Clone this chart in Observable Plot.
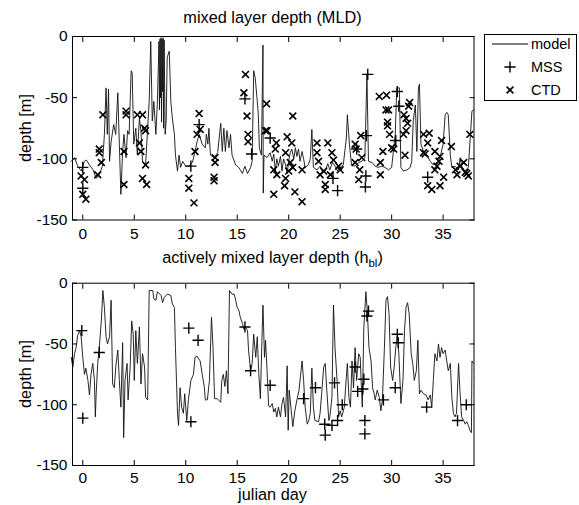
<!DOCTYPE html>
<html><head><meta charset="utf-8">
<script src="https://cdn.jsdelivr.net/npm/d3@7"></script>
<script src="https://cdn.jsdelivr.net/npm/@observablehq/plot@0.6"></script>
<style>
body{margin:0;background:#fff;}
#wrap{position:relative;width:579px;height:505px;font-family:"Liberation Sans",Arial,Helvetica,sans-serif;color:#000;overflow:hidden;}
.t{position:absolute;font-size:16.3px;white-space:nowrap;transform:translateX(-50%);}
.p{position:absolute;left:0;}
sub{font-size:11.5px;vertical-align:-4px;line-height:0;color:#000;}
</style></head><body><div id="wrap"></div>
<script>
// x axis ticks (julian day) and y ticks (depth)
const xTicks = [0,5,10,15,20,25,30,35];
const yTicks = [0,-50,-100,-150];
const xDomain = [-1,38];
const yDomain = [-150,0];

// top panel: mixed layer depth (MLD), model [day, depth]
const mldModel = [[-1.13,-102],[-0.8,-99],[-0.5,-106],[-0.15,-110],[0.15,-102],[0.35,-101],[0.65,-105],[1.0,-109],[1.3,-116],[1.6,-113],[1.9,-106],[2.1,-80],[2.26,-42],[2.38,-80],[2.5,-43],[2.6,-102],[2.75,-86],[3.0,-72],[3.2,-80],[3.4,-46],[3.55,-88],[3.7,-129],[3.87,-94],[4.0,-80],[4.2,-99],[4.35,-77],[4.5,-80],[4.7,-28],[4.8,-30],[4.95,-88],[5.15,-75],[5.3,-97],[5.5,-67],[5.65,-77],[5.8,-102],[6.1,-105],[6.3,-75],[6.45,-53],[6.6,-4],[6.75,-69],[6.9,-53],[7.1,-80],[7.25,-53],[7.4,-4],[7.45,-60],[7.5,-2],[7.55,-50],[7.6,-1],[7.65,-70],[7.7,-2],[7.75,-45],[7.8,-1],[7.85,-75],[7.9,-3],[8.0,-80],[8.1,-69],[8.2,-17],[8.4,-12],[8.55,-53],[8.7,-67],[8.9,-80],[9.0,-97],[9.2,-110],[9.35,-97],[9.5,-107],[9.7,-102],[10.0,-106],[10.3,-106],[10.65,-103],[10.9,-94],[11.1,-86],[11.3,-80],[11.6,-88],[11.9,-91],[12.0,-80],[12.15,-88],[12.25,-75],[12.4,-97],[12.75,-99],[13.1,-95],[13.4,-71],[13.55,-94],[13.7,-75],[13.85,-94],[14.0,-77],[14.2,-91],[14.35,-80],[14.5,-97],[14.85,-105],[15.15,-107],[15.5,-112],[15.75,-106],[16.0,-112],[16.3,-107],[16.45,-102],[16.6,-28],[16.75,-34],[16.95,-53],[17.05,-64],[17.15,-91],[17.35,-97],[17.5,-7],[17.53,-128],[17.6,-97],[17.9,-99],[18.2,-95],[18.4,-102],[18.55,-96],[18.7,-110],[18.85,-100],[19.0,-106],[19.2,-98],[19.35,-110],[19.5,-100],[19.7,-105],[19.85,-112],[20.0,-102],[20.15,-95],[20.3,-92],[20.5,-100],[20.65,-91],[20.8,-98],[20.95,-92],[21.1,-102],[21.3,-94],[21.45,-100],[21.6,-107],[21.9,-105],[22.1,-100],[22.25,-76],[22.4,-107],[22.75,-109],[23.05,-106],[23.3,-111],[23.55,-110],[23.8,-104],[24.0,-109],[24.25,-103],[24.5,-106],[24.75,-110],[25.0,-107],[25.3,-105],[25.6,-83],[25.7,-64],[25.9,-88],[26.1,-105],[26.45,-106],[26.8,-103],[27.1,-102],[27.4,-99],[27.6,-31],[27.75,-102],[28.1,-103],[28.4,-106],[28.7,-107],[29.05,-106],[29.35,-107],[29.7,-109],[30.0,-107],[30.35,-80],[30.5,-42],[30.75,-42],[30.9,-107],[31.15,-110],[31.5,-109],[31.8,-107],[31.95,-102],[32.1,-69],[32.3,-56],[32.45,-94],[32.6,-42],[32.7,-39],[32.85,-88],[33.1,-94],[33.4,-97],[33.75,-102],[34.05,-105],[34.4,-103],[34.7,-99],[35.0,-88],[35.2,-64],[35.35,-62],[35.5,-64],[35.7,-97],[35.85,-107],[36.15,-106],[36.5,-109],[36.65,-99],[36.8,-106],[37.1,-110],[37.45,-107],[37.8,-61],[37.95,-60]];

// top panel MSS observations
const mldMSS = [[0,-107],[0,-124],[10.5,-106],[11.3,-72],[15.75,-51],[16.4,-96],[18.2,-83],[24.3,-116],[24.75,-126],[26.6,-92],[27.55,-81],[27.68,-31],[27.5,-114],[27.45,-123],[30.55,-45],[30.7,-57],[30.4,-85],[33.5,-115]];

// top panel CTD observations
const mldCTD = [[-0.16,-114],[0.16,-117],[0,-129],[0.3,-133],[1.6,-92],[1.6,-95],[1.8,-103],[1.45,-113],[1.95,-64],[4.2,-64],[4.2,-61],[4.0,-94],[4.0,-121],[5.3,-64],[5.8,-64],[5.5,-87],[5.65,-94],[6.0,-75],[6.1,-77],[6.1,-105],[5.8,-116],[6.2,-121],[10.3,-116],[10.3,-124],[10.8,-136],[10.9,-94],[11.3,-63],[11.1,-80],[11.4,-76],[12.75,-115],[12.75,-118],[12.85,-99],[12.85,-103],[15.8,-31],[15.65,-46],[15.95,-65],[16.05,-80],[16.05,-86],[17.85,-55],[17.75,-77],[17.9,-77],[18.8,-87],[18.7,-92],[19.85,-82],[20.4,-65],[20.3,-87],[19.7,-95],[18.55,-109],[18.85,-113],[18.55,-129],[19.7,-116],[19.6,-122],[20.15,-103],[20.4,-107],[20.0,-110],[20.6,-127],[21.3,-135],[21.3,-109],[22.75,-87],[22.75,-95],[22.9,-102],[23.05,-113],[23.8,-87],[24.2,-95],[24.35,-101],[23.4,-110],[24.05,-113],[23.55,-121],[23.55,-125],[24.85,-106],[25.0,-109],[26.45,-88],[26.55,-92],[26.45,-103],[27.0,-81],[27.1,-99],[26.9,-109],[26.8,-117],[28.8,-49],[29.5,-48],[29.45,-60],[29.7,-60],[29.6,-70],[29.6,-73],[29.8,-80],[29.15,-94],[30.0,-91],[30.2,-92],[28.9,-103],[28.9,-113],[31.2,-64],[31.4,-67],[31.65,-57],[31.75,-54],[31.15,-80],[31.4,-77],[31.55,-71],[31.3,-97],[33.1,-80],[33.65,-79],[33.5,-87],[33.1,-95],[33.25,-96],[34.2,-94],[34.85,-85],[35.8,-90],[34.7,-98],[34.6,-102],[34.4,-106],[34.2,-109],[33.5,-122],[33.9,-125],[34.7,-122],[35.05,-115],[36.2,-109],[36.35,-113],[36.65,-106],[37.0,-103],[37.15,-111],[37.45,-114],[37.3,-112],[37.6,-80]];

// bottom panel: actively mixed layer depth (h_bl), model [day, depth]
const hblModel = [[-1.13,-61],[-0.97,-69],[-0.8,-58],[-0.65,-53],[-0.5,-43],[-0.3,-39],[-0.16,-44],[0,-61],[0.16,-75],[0.3,-70],[0.5,-80],[0.65,-92],[0.8,-75],[0.97,-66],[1.13,-80],[1.22,-110],[1.3,-91],[1.45,-66],[1.6,-53],[1.8,-31],[1.95,-6],[2.1,-20],[2.26,-44],[2.4,-50],[2.6,-44],[2.75,-14],[2.9,-83],[3.06,-86],[3.2,-69],[3.4,-55],[3.55,-80],[3.7,-102],[3.87,-49],[3.97,-127],[4.1,-80],[4.3,-66],[4.4,-96],[4.6,-69],[4.75,-31],[4.9,-42],[5.0,-80],[5.15,-39],[5.3,-66],[5.5,-36],[5.65,-83],[5.8,-58],[6.0,-69],[6.1,-94],[6.3,-96],[6.45,-6],[6.8,-6],[6.9,-13],[7.1,-14],[7.25,-7],[7.6,-10],[7.75,-16],[7.9,-12],[8.2,-9],[8.55,-10],[8.7,-17],[8.9,-20],[9.0,-53],[9.2,-107],[9.3,-117],[9.45,-86],[9.6,-102],[9.77,-107],[9.9,-91],[10.1,-113],[10.26,-96],[10.5,-80],[10.75,-75],[10.9,-61],[11.1,-60],[11.4,-64],[11.6,-75],[11.8,-85],[11.9,-96],[12.1,-96],[12.3,-80],[12.5,-28],[12.65,-53],[12.8,-95],[13.05,-95],[13.4,-98],[13.5,-80],[13.65,-75],[13.8,-85],[13.95,-72],[14.1,-91],[14.25,-6],[14.5,-9],[14.7,-9],[14.85,-14],[15.0,-20],[15.15,-22],[15.3,-28],[15.5,-33],[15.65,-38],[15.8,-36],[16.0,-39],[16.1,-55],[16.3,-72],[16.45,-66],[16.6,-42],[16.8,-61],[16.95,-44],[17.1,-75],[17.25,-95],[17.4,-47],[17.5,-18],[17.65,-61],[17.75,-47],[17.9,-72],[18.05,-101],[18.2,-102],[18.4,-99],[18.55,-106],[18.7,-103],[18.85,-110],[19.0,-102],[19.2,-110],[19.35,-99],[19.5,-94],[19.7,-110],[19.85,-68],[19.95,-121],[20.05,-88],[20.25,-105],[20.4,-118],[20.6,-105],[20.8,-96],[21.0,-88],[21.3,-64],[21.45,-80],[21.6,-102],[21.8,-116],[21.95,-113],[22.1,-107],[22.25,-70],[22.4,-102],[22.55,-113],[22.9,-114],[23.05,-107],[23.2,-91],[23.4,-69],[23.55,-66],[23.7,-88],[23.9,-113],[24.0,-110],[24.2,-94],[24.35,-18],[24.5,-53],[24.7,-80],[24.85,-110],[25.0,-105],[25.15,-110],[25.4,-102],[25.6,-77],[25.7,-66],[25.85,-94],[26.0,-102],[26.15,-64],[26.3,-86],[26.45,-53],[26.6,-80],[26.8,-58],[26.95,-61],[27.05,-83],[27.15,-102],[27.3,-36],[27.5,-7],[27.65,-25],[27.8,-53],[28.0,-64],[28.15,-86],[28.3,-91],[28.4,-96],[28.6,-88],[28.8,-94],[28.95,-105],[29.1,-96],[29.3,-53],[29.45,-14],[29.6,-11],[29.75,-25],[29.9,-69],[30.1,-80],[30.25,-69],[30.4,-53],[30.55,-43],[30.7,-58],[30.9,-99],[31.1,-80],[31.25,-39],[31.4,-20],[31.55,-16],[31.7,-25],[31.9,-58],[32.05,-66],[32.2,-80],[32.4,-72],[32.55,-47],[32.7,-91],[32.85,-88],[33.1,-91],[33.35,-92],[33.55,-96],[33.75,-92],[33.9,-102],[34.05,-80],[34.2,-58],[34.4,-64],[34.55,-50],[34.7,-61],[34.85,-53],[35.0,-58],[35.2,-55],[35.35,-64],[35.5,-72],[35.7,-66],[35.85,-94],[36.0,-107],[36.15,-110],[36.3,-107],[36.5,-66],[36.65,-91],[36.8,-110],[37.0,-113],[37.15,-116],[37.3,-114],[37.45,-117],[37.6,-121],[37.75,-123],[37.8,-64],[37.95,-66]];

// bottom panel MSS observations
const hblMSS = [[-0.1,-39],[0,-111],[1.6,-57],[10.3,-37],[11.2,-47],[10.5,-114],[15.75,-36],[16.3,-72],[18.2,-84],[21.45,-95],[22.6,-86],[23.5,-116],[23.55,-125],[24.2,-117],[24.45,-82],[24.75,-113],[25.2,-100],[26.45,-69],[26.7,-89],[27.2,-87],[27.3,-79],[27.4,-113],[27.4,-124],[27.6,-27],[27.75,-23],[29.2,-96],[30.35,-86],[30.55,-42],[30.65,-49],[33.4,-102],[36.4,-113],[37.25,-100]];

const FONT = "Liberation Sans, Arial, Helvetica, sans-serif";
const PLUS_R = 3.7, TIMES_R = 3.2;

function panel(model, mss, ctd, height, marginTop, marginBottom, xPad) {
  const marks = [
    Plot.line(model, {x: d => d[0], y: d => d[1], stroke: "#111", strokeWidth: 0.9}),
    Plot.dot(mss, {x: d => d[0], y: d => d[1], symbol: "plus", r: PLUS_R, stroke: "#000", strokeWidth: 1.4}),
  ];
  if (ctd) marks.push(Plot.dot(ctd, {x: d => d[0], y: d => d[1], symbol: "times", r: TIMES_R, stroke: "#000", strokeWidth: 1.6}));
  marks.push(
    Plot.frame({stroke: "#000", strokeWidth: 1}),
    Plot.axisX(xTicks, {anchor: "bottom", tickSize: 0, tickPadding: xPad, tickFormat: d => String(d), label: null}),
    Plot.axisX(xTicks, {anchor: "bottom", tickSize: -5, tickFormat: () => "", label: null}),
    Plot.axisX(xTicks, {anchor: "top", tickSize: -5, tickFormat: () => "", label: null}),
    Plot.axisY(yTicks, {anchor: "left", tickSize: 0, tickPadding: 5, tickFormat: d => String(d), label: null}),
    Plot.axisY(yTicks, {anchor: "left", tickSize: -5, tickFormat: () => "", label: null}),
    Plot.axisY(yTicks, {anchor: "right", tickSize: -5, tickFormat: () => "", label: null})
  );
  return Plot.plot({
    width: 480, height, marginLeft: 72, marginRight: 6.5, marginTop, marginBottom,
    style: {fontFamily: FONT, fontSize: "15.5px", color: "#000", background: "transparent", overflow: "visible"},
    x: {domain: xDomain},
    y: {domain: yDomain},
    marks
  });
}

const wrap = document.getElementById("wrap");

const topPanel = panel(mldModel, mldMSS, mldCTD, 245, 36, 25.5, 8);
topPanel.classList.add("p"); topPanel.style.top = "0px";
wrap.appendChild(topPanel);

const botPanel = panel(hblModel, hblMSS, null, 262, 42.7, 37, 6);
botPanel.classList.add("p"); botPanel.style.top = "240px";
wrap.appendChild(botPanel);

function addText(html, x, y, rot, lh) {
  const d = document.createElement("div");
  d.className = "t"; d.innerHTML = html;
  d.style.left = x + "px"; d.style.top = y + "px";
  if (lh) d.style.lineHeight = lh;
  if (rot) { d.style.transform = "translate(-50%,-50%) rotate(-90deg)"; }
  wrap.appendChild(d);
  return d;
}
addText("mixed layer depth (MLD)", 272.5, 8);
addText("actively mixed layer depth (h<sub>bl</sub>)", 272.5, 248);
addText("julian day", 272.5, 486, false, "1");
addText("depth [m]", 25, 128, true);
addText("depth [m]", 25, 374, true);

// legend
const legendItems = ["model", "MSS", "CTD"];
const lg = d3.select(wrap).append("svg")
  .attr("width", 95).attr("height", 70)
  .style("position", "absolute").style("left", "484px").style("top", "34px")
  .style("font-family", FONT).style("font-size", "14.5px");
lg.append("rect").attr("x", 0.5).attr("y", 0.5).attr("width", 92).attr("height", 66).attr("fill", "#fff").attr("stroke", "#000");
legendItems.forEach((name, i) => {
  const cy = 10 + i * 23;
  if (i === 0) lg.append("line").attr("x1", 8).attr("x2", 44).attr("y1", cy).attr("y2", cy).attr("stroke", "#000");
  else if (i === 1) lg.append("path").attr("d", d3.symbol(d3.symbolPlus, Math.PI * PLUS_R * PLUS_R)()).attr("transform", `translate(26,${cy})`).attr("stroke", "#000").attr("stroke-width", 1.4).attr("fill", "none");
  else lg.append("path").attr("d", d3.symbol(d3.symbolTimes, Math.PI * TIMES_R * TIMES_R)()).attr("transform", `translate(26,${cy})`).attr("stroke", "#000").attr("stroke-width", 1.6).attr("fill", "none");
  lg.append("text").attr("x", 47).attr("y", cy).attr("dy", "0.35em").text(name);
});
</script></body></html>
